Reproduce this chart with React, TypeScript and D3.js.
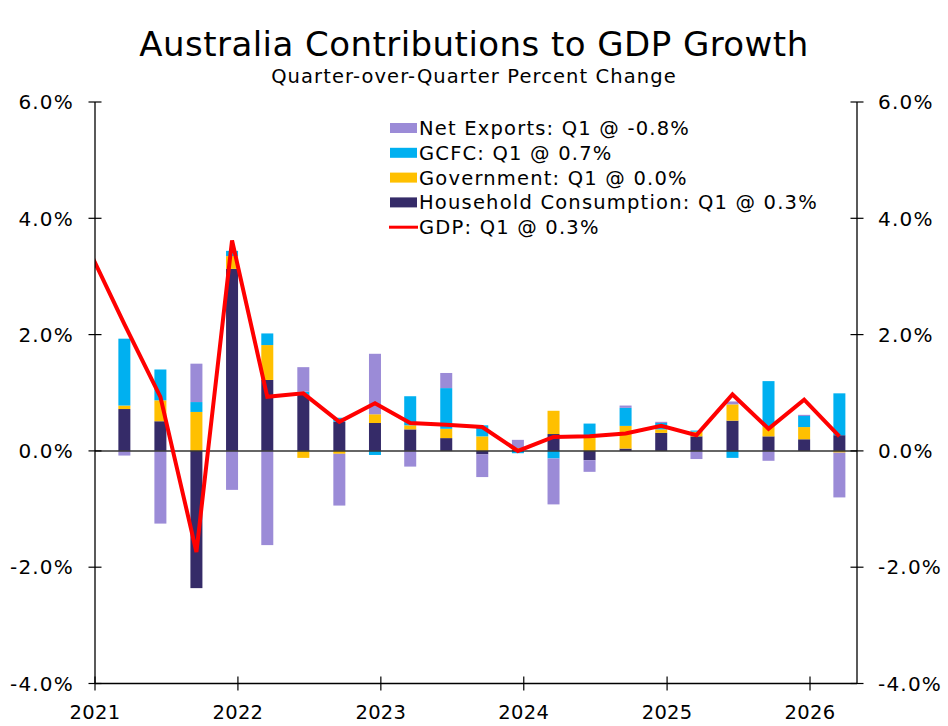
import React from "react";
import * as d3 from "d3";

const quarters = [
  "2021Q1","2021Q2","2021Q3","2021Q4","2022Q1","2022Q2","2022Q3","2022Q4",
  "2023Q1","2023Q2","2023Q3","2023Q4","2024Q1","2024Q2","2024Q3","2024Q4",
  "2025Q1","2025Q2","2025Q3","2025Q4","2026Q1",
];
const household = [0.72, 0.51, -2.36, 3.13, 1.22, 0.97, 0.5, 0.48, 0.37, 0.22, -0.06, 0.02, 0.29, -0.16, 0.04, 0.31, 0.25, 0.52, 0.25, 0.2, 0.27];
const government = [0.06, 0.36, 0.67, 0.22, 0.6, -0.12, -0.05, 0.15, 0.07, 0.16, 0.25, 0.03, 0.4, 0.27, 0.39, 0.06, 0.08, 0.28, 0.17, 0.21, -0.03];
const gcfc = [1.15, 0.53, 0.17, 0.09, 0.2, 0.05, 0.07, -0.07, 0.5, 0.7, 0.19, -0.04, -0.13, 0.2, 0.31, 0.11, 0.02, -0.12, 0.78, 0.19, 0.72];
const netExports = [-0.08, -1.25, 0.66, -0.67, -1.62, 0.42, -0.89, 1.04, -0.27, 0.26, -0.39, 0.14, -0.79, -0.2, 0.04, 0.02, -0.14, 0.05, -0.17, 0.02, -0.77];

const gdpQuarters = ["2020Q4", ...quarters];
const gdp = [3.45, 2.18, 0.93, -1.74, 3.62, 0.93, 0.99, 0.5, 0.82, 0.48, 0.45, 0.41, 0.0, 0.24, 0.25, 0.3, 0.43, 0.27, 0.97, 0.38, 0.88, 0.25];

const yTicks = [-4, -2, 0, 2, 4, 6];
const xTickYears = [2021, 2022, 2023, 2024, 2025, 2026];

const seriesKeys = ["household", "government", "gcfc", "netExports"];
const seriesColors: Record<string, string> = {
  household: "#352b68",
  government: "#ffc000",
  gcfc: "#00b0f0",
  netExports: "#9b8bd7",
};
const legendItems = [
  { key: "netExports", label: "Net Exports: Q1 @ -0.8%", type: "bar" },
  { key: "gcfc", label: "GCFC: Q1 @ 0.7%", type: "bar" },
  { key: "government", label: "Government: Q1 @ 0.0%", type: "bar" },
  { key: "household", label: "Household Consumption: Q1 @ 0.3%", type: "bar" },
  { key: "gdp", label: "GDP: Q1 @ 0.3%", type: "line" },
];

const FONT = "'DejaVu Sans', Verdana, sans-serif";
const W = 948;
const H = 726;
const M = { left: 95, right: 857, top: 102, bottom: 683.5 };

function qDate(q: string) {
  const y = +q.slice(0, 4);
  const n = +q.slice(5);
  return new Date(y, 3 * n - 1, 17);
}

const fmtPct = (t: number) => d3.format(".1f")(t).replace("\u2212", "-") + "%";

export default function App() {
  const x = d3.scaleTime().domain([new Date(2021, 0, 1), new Date(2026, 4, 1)]).range([M.left, M.right]);
  const y = d3.scaleLinear().domain([-4, 6]).range([M.bottom, M.top]);

  const rows = quarters.map((q, i) => ({
    q,
    household: household[i],
    government: government[i],
    gcfc: gcfc[i],
    netExports: netExports[i],
  }));
  const stacked = d3.stack<any>().keys(seriesKeys).offset(d3.stackOffsetDiverging)(rows);
  const barW = 12;

  const line = d3
    .line<number>()
    .x((_, i) => x(qDate(gdpQuarters[i])))
    .y((d) => y(d));

  return (
    <svg width={W} height={H} style={{ position: "absolute", left: 0, top: 0, background: "#fff" }}>
      <defs>
        <clipPath id="plotclip">
          <rect x={M.left} y={0} width={M.right - M.left} height={H} />
        </clipPath>
      </defs>
      <text x={474} y={56} textAnchor="middle" fontFamily={FONT} fontSize={34} letterSpacing={0.45} fill="#000">
        Australia Contributions to GDP Growth
      </text>
      <text x={474} y={83} textAnchor="middle" fontFamily={FONT} fontSize={19.5} letterSpacing={1.1} fill="#000">
        Quarter-over-Quarter Percent Change
      </text>

      {stacked.map((s) => (
        <g key={s.key} fill={seriesColors[s.key]}>
          {s.map((d, i) => {
            const y0 = y(d[0]);
            const y1 = y(d[1]);
            return (
              <rect
                key={i}
                x={x(qDate(quarters[i])) - barW / 2}
                y={Math.min(y0, y1)}
                width={barW}
                height={Math.abs(y1 - y0)}
              />
            );
          })}
        </g>
      ))}

      <line x1={M.left} x2={M.right} y1={y(0)} y2={y(0)} stroke="#333" strokeWidth={1.5} />

      <path
        d={line(gdp) || ""}
        fill="none"
        stroke="#ff0000"
        strokeWidth={4}
        strokeLinejoin="miter"
        clipPath="url(#plotclip)"
      />

      {/* axes */}
      <line x1={M.left} x2={M.left} y1={M.top} y2={M.bottom} stroke="#000" strokeWidth={1.3} />
      <line x1={M.right} x2={M.right} y1={M.top} y2={M.bottom} stroke="#000" strokeWidth={1.3} />
      <line x1={M.left} x2={M.right} y1={M.bottom} y2={M.bottom} stroke="#000" strokeWidth={1.3} />
      {yTicks.map((t) => (
        <g key={t}>
          <line x1={M.left - 6.5} x2={M.left + 6.5} y1={y(t)} y2={y(t)} stroke="#000" strokeWidth={1.2} />
          <line x1={M.right - 6.5} x2={M.right + 6.5} y1={y(t)} y2={y(t)} stroke="#000" strokeWidth={1.2} />
          <text x={M.left - 21} y={y(t)} dy="0.36em" textAnchor="end" fontFamily={FONT} fontSize={20} letterSpacing={1.2} fill="#000">
            {fmtPct(t)}
          </text>
          <text x={M.right + 21} y={y(t)} dy="0.36em" textAnchor="start" fontFamily={FONT} fontSize={20} letterSpacing={1.2} fill="#000">
            {fmtPct(t)}
          </text>
        </g>
      ))}
      {xTickYears.map((yr) => {
        const px = x(new Date(yr, 0, 1));
        return (
          <g key={yr}>
            <line x1={px} x2={px} y1={M.bottom - 7} y2={M.bottom + 7} stroke="#000" strokeWidth={1.2} />
            <text x={px} y={719} textAnchor="middle" fontFamily={FONT} fontSize={19.5} letterSpacing={0.3} fill="#000">
              {yr}
            </text>
          </g>
        );
      })}

      {/* legend */}
      {legendItems.map((it, i) => {
        const cy = 128 + i * 24.8;
        return (
          <g key={it.key}>
            {it.type === "bar" ? (
              <rect x={390} y={cy - 5} width={27} height={10} fill={seriesColors[it.key]} />
            ) : (
              <line x1={389} x2={418} y1={cy} y2={cy} stroke="#ff0000" strokeWidth={3} />
            )}
            <text x={419} y={cy} dy="0.36em" fontFamily={FONT} fontSize={19.5} letterSpacing={1.2} fill="#000">
              {it.label}
            </text>
          </g>
        );
      })}
    </svg>
  );
}
